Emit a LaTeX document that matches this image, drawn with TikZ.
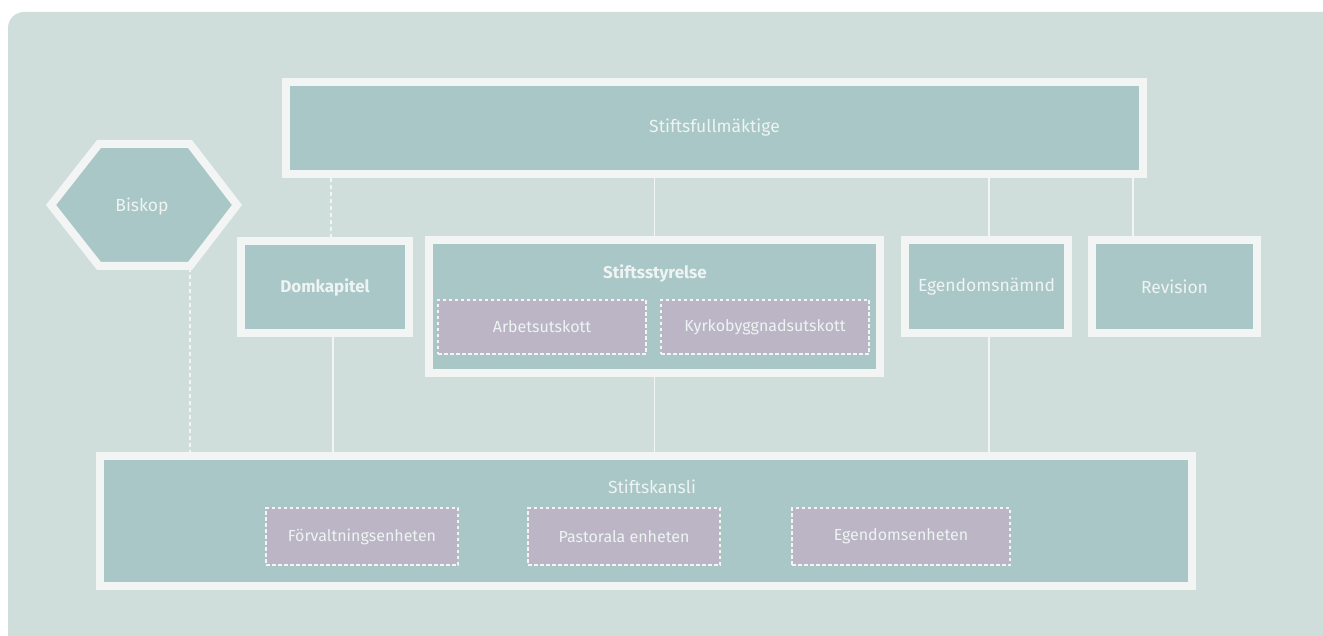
\documentclass[tikz,border=0pt]{standalone}
\usepackage{fontspec}
\setmainfont{Fira Sans}
\usetikzlibrary{calc}
\definecolor{bgc}{HTML}{CFDDDB}
\definecolor{boxc}{HTML}{A9C7C6}
\definecolor{purp}{HTML}{BBB5C5}
\definecolor{bord}{HTML}{F3F4F4}
\definecolor{txt}{HTML}{EEF4F3}
\tikzset{
  orgbox/.style={draw=bord, line width=8pt, fill=boxc, inner sep=0pt,
    text=txt, font=\fontsize{17.5}{20}\selectfont},
  subbox/.style={draw=bord, line width=1.6pt, dash pattern=on 3.5pt off 2.5pt,
    fill=purp, inner sep=0pt, text=txt, font=\fontsize{16}{19}\selectfont},
  link/.style={draw=bord, line width=1.5pt},
  dlink/.style={draw=bord, line width=1.8pt, dash pattern=on 4pt off 3pt},
  ttl/.style={text=txt, font=\fontsize{17.5}{20}\selectfont, inner sep=0pt}
}
\begin{document}
\begin{tikzpicture}[x=1pt,y=-1pt]
\useasboundingbox (0,0) rectangle (1323,636);
\fill[bgc, rounded corners=16pt] (8,12) rectangle (1345,660);
% Biskop hexagon
\draw[draw=bord, line width=8pt, fill=boxc, line join=miter]
  (51,205) -- (99,144) -- (190,144) -- (237,205) -- (190,266) -- (99,266) -- cycle;
\node[ttl] (biskop) at (142,207) {Biskop};
\coordinate (bk) at (190,268);
% boxes
\node[orgbox, minimum width=857pt, minimum height=92pt] (sf) at (714.5,128) {Stiftsfullmäktige};
\node[orgbox, minimum width=168pt, minimum height=92pt, font=\fontsize{17}{20}\selectfont\bfseries] (dom) at (325,287) {Domkapitel};
\node[orgbox, minimum width=451pt, minimum height=133pt] (styr) at (654.5,306.5) {};
\node[ttl, font=\fontsize{17}{20}\selectfont\bfseries] (styrt) at (655,273) {Stiftsstyrelse};
\node[subbox, minimum width=208pt, minimum height=54pt] (arb) at (542,327) {Arbetsutskott};
\node[subbox, minimum width=208pt, minimum height=54pt] (kyrk) at (765,327) {Kyrkobyggnadsutskott};
\node[orgbox, minimum width=163pt, minimum height=93pt] (egn) at (986.5,286.5) {Egendomsnämnd};
\node[orgbox, minimum width=165pt, minimum height=93pt] (rev) at (1174.5,286.5) {Revision};
\node[orgbox, minimum width=1092pt, minimum height=130pt] (kansli) at (646,521) {};
\node[ttl] (kanslit) at (652,487) {Stiftskansli};
\node[subbox, minimum width=192pt, minimum height=57pt] (forv) at (362,536.5) {Förvaltningsenheten};
\node[subbox, minimum width=192pt, minimum height=57pt] (past) at (624,536.5) {Pastorala enheten};
\node[subbox, minimum width=218pt, minimum height=57pt] (egh) at (901,536.5) {Egendomsenheten};
% connectors
\draw[dlink] ([xshift=6pt]dom.north |- sf.south) -- ([xshift=6pt]dom.north);
\draw[link] (styr.north |- sf.south) -- (styr.north);
\draw[link] ([xshift=2.5pt]egn.north |- sf.south) -- ([xshift=2.5pt]egn.north);
\draw[link] ([xshift=45pt]rev.north west |- sf.south) -- ([xshift=45pt]rev.north west);
\draw[link] ([xshift=8pt]dom.south) -- ([xshift=8pt]dom.south |- kansli.north);
\draw[link] (styr.south) -- (styr.south |- kansli.north);
\draw[link] ([xshift=2.5pt]egn.south) -- ([xshift=2.5pt]egn.south |- kansli.north);
\draw[dlink] (bk) -- (bk |- kansli.north);
\end{tikzpicture}
\end{document}
